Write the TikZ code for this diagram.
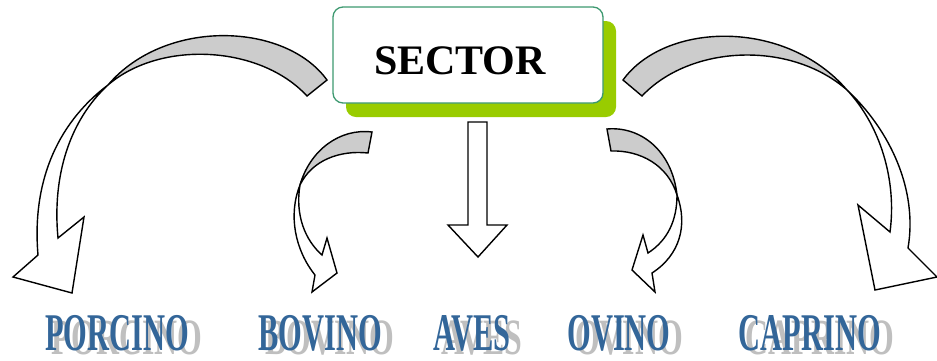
\documentclass[tikz,border=0pt]{standalone}
\usepackage{fontspec}
\setmainfont{Liberation Serif}
\usetikzlibrary{shadows}
\definecolor{boxline}{HTML}{3D9970}
\definecolor{boxshadow}{HTML}{99CC00}
\definecolor{bandgrey}{HTML}{CCCCCC}
\definecolor{labelblue}{HTML}{336699}
\definecolor{labelgrey}{HTML}{BFBFBF}
\begin{document}
\begin{tikzpicture}[x=1pt,y=-1pt,
  band/.style={draw=black,line width=1.4pt,line join=miter},
  backside/.style={band,fill=bandgrey},
  frontside/.style={band,fill=white},
  sectorbox/.style={draw=boxline,line width=1.3pt,fill=white,rounded corners=10pt,
    minimum width=270pt,minimum height=96pt,inner sep=0pt,
    drop shadow={shadow xshift=13pt,shadow yshift=-14pt,fill=boxshadow,opacity=1}},
  sectortext/.style={font=\fontsize{42}{42}\selectfont\bfseries,inner sep=0pt},
  labeltext/.style={font=\fontsize{53}{53}\selectfont\bfseries,text=labelblue,inner sep=0pt},
  labelshadow/.style={font=\fontsize{53}{53}\selectfont\bfseries,text=labelgrey,inner sep=0pt}]
\useasboundingbox (0,0) rectangle (937,360);

% curved arrow to the far left
\path[backside] (327,80) .. controls (285,22) and (165,18) .. (108,85)
  .. controls (160,40) and (260,45) .. (307,96) -- cycle;
\path[frontside] (108,85) .. controls (55,125) and (32,185) .. (38,255)
  -- (13,277) -- (72,293) -- (84,217) -- (58,238)
  .. controls (52,175) and (70,120) .. (108,85) -- cycle;

% curved arrow to the far right
\path[backside] (623,80) .. controls (665,22) and (785,18) .. (847,90)
  .. controls (790,40) and (690,45) .. (642,96) -- cycle;
\path[frontside] (847,90) .. controls (890,130) and (918,190) .. (908,248)
  -- (937,277) -- (875,290) -- (858,205) -- (890,232)
  .. controls (897,180) and (880,125) .. (847,90) -- cycle;

% small curved arrow, left
\path[backside] (372,132) .. controls (340,128) and (310,150) .. (300,185)
  .. controls (312,160) and (340,150) .. (368,153) -- cycle;
\path[frontside] (300,185) .. controls (288,215) and (295,250) .. (315,275)
  -- (312,292) -- (337,273) -- (327,238) -- (322,255)
  .. controls (305,240) and (295,215) .. (300,185) -- cycle;

% small curved arrow, right
\path[backside] (607,129) .. controls (640,126) and (672,150) .. (677,195)
  .. controls (668,165) and (640,150) .. (611,151) -- cycle;
\path[frontside] (677,195) .. controls (688,225) and (680,255) .. (652,273)
  -- (655,292) -- (632,270) -- (643,235) -- (648,253)
  .. controls (668,240) and (677,220) .. (677,195) -- cycle;

% straight arrow in the middle
\path[frontside] (468,122) -- (487,122) -- (487,225) -- (507,225)
  -- (478,257) -- (448,225) -- (468,225) -- cycle;

% the sector box
\node[sectorbox] (sector) at (468,55) {};
\node[sectortext,anchor=base] (sectorlabel) at (460,74) {SECTOR};

% the five labels, each over its grey shadow
\foreach \n/\x/\t in {porcino/117/PORCINO,bovino/320/BOVINO,aves/472/AVES,ovino/619/OVINO,caprino/810/CAPRINO}{
  \node[labelshadow,anchor=base] (\n-shadow) at (\x+10,354) {\scalebox{0.6}[0.96]{\t}};
  \node[labeltext,anchor=base] (\n) at (\x,350) {\scalebox{0.575}[1]{\t}};
}
\end{tikzpicture}
\end{document}
